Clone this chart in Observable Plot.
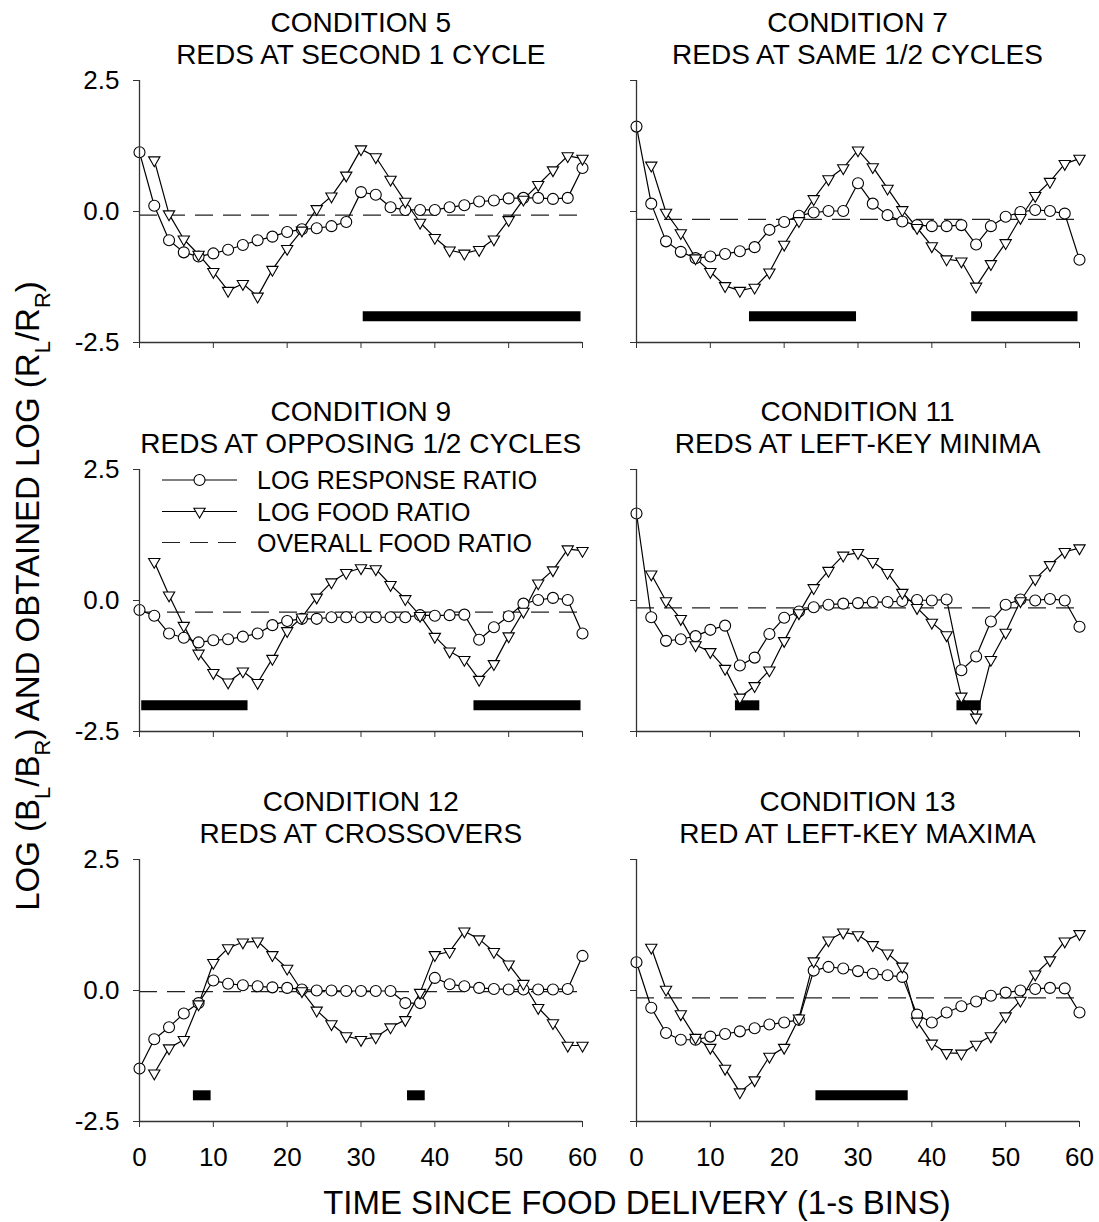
<!DOCTYPE html>
<html><head><meta charset="utf-8">
<script src="https://cdn.jsdelivr.net/npm/d3@7"></script>
<script src="https://cdn.jsdelivr.net/npm/@observablehq/plot@0.6"></script>
<style>
html,body{margin:0;padding:0;background:#fff;}
#chart{position:relative;width:1099px;height:1222px;font-family:"Liberation Sans",Arial,sans-serif;}
#chart svg{position:absolute;overflow:visible;}
</style></head><body><div id="chart"></div>
<script>
// ---------- data ----------
const timeResponse = [0,2,4,6,8,10,12,14,16,18,20,22,24,26,28,30,32,34,36,38,40,42,44,46,48,50,52,54,56,58,60];
const timeFood = [2,4,6,8,10,12,14,16,18,20,22,24,26,28,30,32,34,36,38,40,42,44,46,48,50,52,54,56,58,60];

const conditionTitles = ["CONDITION 5","CONDITION 7","CONDITION 9","CONDITION 11","CONDITION 12","CONDITION 13"];
const conditionSubtitles = ["REDS AT SECOND 1 CYCLE","REDS AT SAME 1/2 CYCLES","REDS AT OPPOSING 1/2 CYCLES","REDS AT LEFT-KEY MINIMA","REDS AT CROSSOVERS","RED AT LEFT-KEY MAXIMA"];

const responseC5 = [1.13,0.11,-0.55,-0.78,-0.86,-0.80,-0.73,-0.64,-0.55,-0.48,-0.39,-0.34,-0.32,-0.28,-0.20,0.37,0.32,0.08,0.03,0.03,0.03,0.08,0.12,0.19,0.21,0.25,0.26,0.26,0.24,0.26,0.83];
const foodC5 = [0.98,-0.05,-0.53,-0.82,-1.15,-1.51,-1.38,-1.62,-1.11,-0.71,-0.36,0.05,0.29,0.69,1.19,1.04,0.61,0.19,-0.21,-0.50,-0.74,-0.80,-0.73,-0.53,-0.16,0.23,0.51,0.79,1.06,1.01];

const responseC7 = [1.62,0.15,-0.57,-0.77,-0.89,-0.86,-0.81,-0.76,-0.68,-0.35,-0.20,-0.08,-0.02,0.01,0.01,0.54,0.15,-0.07,-0.19,-0.26,-0.28,-0.28,-0.26,-0.63,-0.28,-0.10,-0.01,0.03,0.01,-0.04,-0.92];
const foodC7 = [0.88,-0.02,-0.41,-0.89,-1.15,-1.42,-1.51,-1.45,-1.16,-0.63,-0.18,0.24,0.62,0.83,1.17,0.85,0.44,0.03,-0.31,-0.66,-0.91,-0.95,-1.43,-1.00,-0.60,-0.12,0.30,0.57,0.91,1.01];

const responseC9 = [-0.18,-0.29,-0.63,-0.71,-0.80,-0.76,-0.74,-0.69,-0.63,-0.47,-0.39,-0.35,-0.35,-0.32,-0.32,-0.32,-0.32,-0.32,-0.32,-0.28,-0.29,-0.28,-0.27,-0.75,-0.51,-0.30,-0.06,0.01,0.05,0.01,-0.63];
const foodC9 = [0.74,0.10,-0.48,-1.01,-1.38,-1.56,-1.35,-1.57,-1.11,-0.58,-0.32,0.06,0.35,0.53,0.62,0.60,0.30,0.03,-0.29,-0.69,-0.97,-1.13,-1.51,-1.21,-0.68,-0.21,0.33,0.58,0.98,0.95];

const responseC11 = [1.66,-0.32,-0.77,-0.74,-0.68,-0.56,-0.48,-1.24,-1.09,-0.64,-0.33,-0.21,-0.13,-0.08,-0.06,-0.05,-0.03,-0.03,-0.01,0.01,0.00,0.02,-1.33,-1.07,-0.40,-0.08,0.02,0.00,0.03,0.00,-0.50];
const foodC11 = [0.50,-0.01,-0.35,-0.85,-0.98,-1.30,-1.85,-1.63,-1.33,-0.77,-0.24,0.24,0.57,0.86,0.91,0.74,0.53,0.15,-0.14,-0.42,-0.66,-1.83,-2.23,-1.13,-0.61,-0.01,0.41,0.68,0.93,1.00];

const responseC12 = [-1.49,-0.93,-0.70,-0.44,-0.24,0.19,0.13,0.10,0.08,0.06,0.05,0.02,0.00,0.00,-0.01,-0.01,-0.01,-0.01,-0.24,-0.24,0.24,0.12,0.08,0.05,0.03,0.02,0.02,0.02,0.02,0.03,0.66];
const foodC12 = [-1.58,-1.10,-0.94,-0.26,0.53,0.81,0.92,0.94,0.68,0.42,-0.01,-0.38,-0.64,-0.87,-0.94,-0.89,-0.70,-0.56,-0.04,0.68,0.74,1.13,0.98,0.74,0.50,0.13,-0.33,-0.62,-1.05,-1.05];

const responseC13 = [0.54,-0.33,-0.81,-0.94,-0.94,-0.88,-0.83,-0.78,-0.72,-0.65,-0.61,-0.56,0.38,0.45,0.42,0.37,0.32,0.29,0.26,-0.46,-0.61,-0.42,-0.30,-0.21,-0.10,-0.04,0.00,0.03,0.05,0.04,-0.42];
const foodC13 = [0.82,0.02,-0.45,-0.90,-1.09,-1.49,-1.94,-1.71,-1.26,-1.09,-0.53,0.56,0.96,1.11,1.06,0.87,0.71,0.46,-0.59,-1.01,-1.19,-1.20,-1.03,-0.87,-0.49,-0.19,0.31,0.58,0.94,1.08];

const overallFoodRatio = [-0.07,-0.15,-0.22,-0.14,-0.02,-0.14];

// red keylight periods (start, end in s)
const redStarts = [[30.3],[15.3,45.4],[0.3,45.3],[13.4,43.4],[7.3,36.3],[24.3]];
const redEnds   = [[59.8],[29.8,59.8],[14.7,59.8],[16.7,46.7],[9.7,38.7],[36.8]];
const redLevel = -2.0;

const xTicks = [0,10,20,30,40,50,60];
const yTicks = [-2.5,0,2.5];
const legendLabels = ["LOG RESPONSE RATIO","LOG FOOD RATIO","OVERALL FOOD RATIO"];

const responseSeries = [responseC5,responseC7,responseC9,responseC11,responseC12,responseC13];
const foodSeries = [foodC5,foodC7,foodC9,foodC11,foodC12,foodC13];

// ---------- layout ----------
const FONT = "'Liberation Sans', Arial, Helvetica, sans-serif";
const colLeft = [139.3, 636];
const rowTop = [80, 469, 858.5];
const frameW = 443, frameH = 262;
const ML = 70, MR = 20, MT = 10, MB = 60;
const TRI_R = 4.2, CIRC_R = 5.5;

const chart = document.getElementById("chart");

for (let i = 0; i < 6; i++) {
  const col = i % 2, row = Math.floor(i / 2);
  const resp = timeResponse.map((t, k) => ({t, v: responseSeries[i][k]}));
  const food = timeFood.map((t, k) => ({t, v: foodSeries[i][k]}));
  const bars = redStarts[i].map((s, k) => ({s, e: redEnds[i][k]}));
  const isBottom = row === 2, isLeft = col === 0;
  const p = Plot.plot({
    width: ML + frameW + MR,
    height: MT + frameH + MB,
    marginLeft: ML, marginRight: MR, marginTop: MT, marginBottom: MB,
    x: {domain: [0, 60]},
    y: {domain: [-2.5, 2.5]},
    style: {fontFamily: FONT, fontSize: "26px", color: "black", background: "transparent", overflow: "visible"},
    marks: [
      Plot.ruleY([overallFoodRatio[i]], {stroke: "#222", strokeWidth: 1.2, strokeDasharray: "18,10"}),
      Plot.ruleY(bars, {x1: "s", x2: "e", y: () => redLevel, stroke: "black", strokeWidth: 10}),
      Plot.line(resp, {x: "t", y: "v", stroke: "black", strokeWidth: 1.2}),
      Plot.line(food, {x: "t", y: "v", stroke: "black", strokeWidth: 1.2}),
      Plot.dot(resp, {x: "t", y: "v", r: CIRC_R, fill: "white", stroke: "black", strokeWidth: 1.1}),
      Plot.dot(food, {x: "t", y: "v", symbol: "triangle", rotate: 180, r: TRI_R, fill: "white", stroke: "black", strokeWidth: 1.1}),
      Plot.ruleX([0], {stroke: "#333", strokeWidth: 1.3}),
      Plot.ruleY([-2.5], {stroke: "#333", strokeWidth: 1.3}),
      Plot.axisY({ticks: yTicks, tickSize: 6, tickPadding: 14, label: null, stroke: "#333",
        tickFormat: isLeft ? (d => d.toFixed(1)) : (() => "")}),
      Plot.axisX({ticks: xTicks, tickSize: 6, tickPadding: 20, label: null, stroke: "#333",
        tickFormat: isBottom ? (d => String(d)) : (() => "")})
    ]
  });
  p.style.left = (colLeft[col] - ML) + "px";
  p.style.top = (rowTop[row] - MT) + "px";
  chart.appendChild(p);
}

// ---------- overlay: titles, axis titles, legend ----------
const ov = d3.select(chart).append("svg")
  .attr("width", 1099).attr("height", 1222)
  .style("left", "0px").style("top", "0px")
  .style("font-family", FONT);

for (let i = 0; i < 6; i++) {
  const col = i % 2, row = Math.floor(i / 2);
  const cx = colLeft[col] + frameW / 2;
  ov.append("text").attr("x", cx).attr("y", rowTop[row] - 48).attr("text-anchor", "middle")
    .attr("font-size", 28).text(conditionTitles[i]);
  ov.append("text").attr("x", cx).attr("y", rowTop[row] - 16).attr("text-anchor", "middle")
    .attr("font-size", 28).text(conditionSubtitles[i]);
}

// x-axis title
ov.append("text").attr("x", 637).attr("y", 1214).attr("text-anchor", "middle")
  .attr("font-size", 33).text("TIME SINCE FOOD DELIVERY (1-s BINS)");

// y-axis title with subscripts
const yl = ov.append("text").attr("transform", "translate(39,596) rotate(-90)")
  .attr("text-anchor", "middle").attr("font-size", 33);
const parts = [["LOG (B",0],["L",1],["/B",0],["R",1],[") AND OBTAINED LOG (R",0],["L",1],["/R",0],["R",1],[")",0]];
let sub = false;
for (const [txt, s] of parts) {
  const ts = yl.append("tspan").text(txt);
  if (s && !sub) { ts.attr("dy", 11).attr("font-size", 22); sub = true; }
  else if (s) { ts.attr("font-size", 22); }
  else if (!s && sub) { ts.attr("dy", -11); sub = false; }
}

// legend in Condition 9 panel
const lg = ov.append("g");
const lx1 = 162, lx2 = 237, lmx = 199.5, ltx = 257;
const lys = [480, 511.5, 542.5];
lg.append("line").attr("x1", lx1).attr("x2", lx2).attr("y1", lys[0]).attr("y2", lys[0]).attr("stroke", "black").attr("stroke-width", 1.2);
lg.append("circle").attr("cx", lmx).attr("cy", lys[0]).attr("r", CIRC_R).attr("fill", "white").attr("stroke", "black").attr("stroke-width", 1.1);
lg.append("line").attr("x1", lx1).attr("x2", lx2).attr("y1", lys[1]).attr("y2", lys[1]).attr("stroke", "black").attr("stroke-width", 1.2);
lg.append("path").attr("d", d3.symbol(d3.symbolTriangle, Math.PI * TRI_R * TRI_R)())
  .attr("transform", `translate(${lmx},${lys[1]}) rotate(180)`)
  .attr("fill", "white").attr("stroke", "black").attr("stroke-width", 1.1);
lg.append("line").attr("x1", lx1).attr("x2", lx2).attr("y1", lys[2]).attr("y2", lys[2]).attr("stroke", "#222").attr("stroke-width", 1.2).attr("stroke-dasharray", "18,10");
legendLabels.forEach((t, k) => {
  lg.append("text").attr("x", ltx).attr("y", lys[k] + 9).attr("font-size", 25).text(t);
});
</script>
</body></html>
